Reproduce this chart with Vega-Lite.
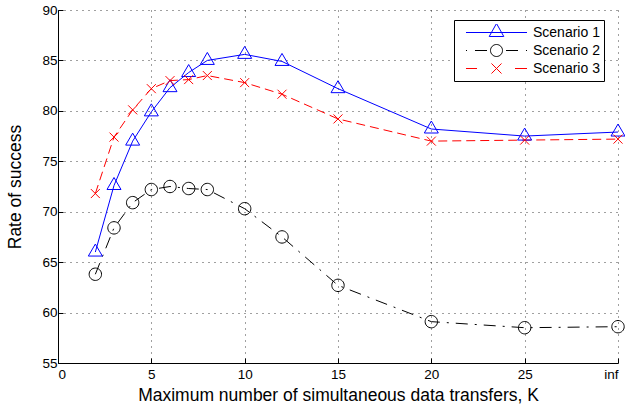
{
  "$schema": "https://vega.github.io/schema/vega-lite/v6.json",
  "width": 560,
  "height": 353,
  "autosize": "none",
  "padding": {"left": 58, "top": 10, "right": 7, "bottom": 45},
  "background": "white",
  "config": {
    "font": "Liberation Sans",
    "view": {"stroke": null},
    "axis": {
      "domainColor": "#000",
      "domainWidth": 1,
      "tickColor": "#000",
      "tickSize": -5,
      "labelColor": "#000",
      "labelFont": "Liberation Sans",
      "labelFontSize": 13.5,
      "titleColor": "#000",
      "titleFont": "Liberation Sans",
      "titleFontSize": 17.5,
      "titleFontWeight": "normal",
      "grid": true,
      "gridColor": "#000",
      "gridDash": [1, 5],
      "gridOpacity": 0.75
    }
  },
  "data": {
    "values": [
      {"series": "Scenario 1", "k": 2, "rate": 66.0},
      {"series": "Scenario 1", "k": 3, "rate": 72.6},
      {"series": "Scenario 1", "k": 4, "rate": 77.0},
      {"series": "Scenario 1", "k": 5, "rate": 79.9},
      {"series": "Scenario 1", "k": 6, "rate": 82.3},
      {"series": "Scenario 1", "k": 7, "rate": 83.8},
      {"series": "Scenario 1", "k": 8, "rate": 85.0},
      {"series": "Scenario 1", "k": 10, "rate": 85.6},
      {"series": "Scenario 1", "k": 12, "rate": 84.9},
      {"series": "Scenario 1", "k": 15, "rate": 82.2},
      {"series": "Scenario 1", "k": 20, "rate": 78.2},
      {"series": "Scenario 1", "k": 25, "rate": 77.5},
      {"series": "Scenario 1", "k": 30, "rate": 77.9},
      {"series": "Scenario 2", "k": 2, "rate": 63.8},
      {"series": "Scenario 2", "k": 3, "rate": 68.4},
      {"series": "Scenario 2", "k": 4, "rate": 70.9},
      {"series": "Scenario 2", "k": 5, "rate": 72.2},
      {"series": "Scenario 2", "k": 6, "rate": 72.5},
      {"series": "Scenario 2", "k": 7, "rate": 72.3},
      {"series": "Scenario 2", "k": 8, "rate": 72.2},
      {"series": "Scenario 2", "k": 10, "rate": 70.3},
      {"series": "Scenario 2", "k": 12, "rate": 67.5},
      {"series": "Scenario 2", "k": 15, "rate": 62.7},
      {"series": "Scenario 2", "k": 20, "rate": 59.1},
      {"series": "Scenario 2", "k": 25, "rate": 58.5},
      {"series": "Scenario 2", "k": 30, "rate": 58.6},
      {"series": "Scenario 3", "k": 2, "rate": 71.8},
      {"series": "Scenario 3", "k": 3, "rate": 77.4},
      {"series": "Scenario 3", "k": 4, "rate": 80.1},
      {"series": "Scenario 3", "k": 5, "rate": 82.2},
      {"series": "Scenario 3", "k": 6, "rate": 83.0},
      {"series": "Scenario 3", "k": 7, "rate": 83.1},
      {"series": "Scenario 3", "k": 8, "rate": 83.5},
      {"series": "Scenario 3", "k": 10, "rate": 82.8},
      {"series": "Scenario 3", "k": 12, "rate": 81.65},
      {"series": "Scenario 3", "k": 15, "rate": 79.2},
      {"series": "Scenario 3", "k": 20, "rate": 77.0},
      {"series": "Scenario 3", "k": 25, "rate": 77.1},
      {"series": "Scenario 3", "k": 30, "rate": 77.2}
    ]
  },
  "encoding": {
    "x": {
      "field": "k",
      "type": "quantitative",
      "scale": {"domain": [0, 30], "nice": false, "zero": false},
      "axis": {
        "values": [0, 5, 10, 15, 20, 25, 30],
        "labelExpr": "datum.value == 30 ? 'inf' : datum.label",
        "labelPadding": 9,
        "titlePadding": 6,
        "title": "Maximum number of simultaneous data transfers, K"
      }
    },
    "y": {
      "field": "rate",
      "type": "quantitative",
      "scale": {"domain": [55, 90], "nice": false, "zero": false},
      "axis": {
        "values": [55, 60, 65, 70, 75, 80, 85, 90],
        "labelPadding": 6,
        "titlePadding": 17,
        "title": "Rate of success"
      }
    },
    "color": {
      "field": "series",
      "type": "nominal",
      "scale": {
        "domain": ["Scenario 1", "Scenario 2", "Scenario 3"],
        "range": ["#0000ff", "#000000", "#ff0000"]
      },
      "legend": {
        "orient": "none",
        "legendX": 396,
        "legendY": 10,
        "title": null,
        "padding": 4,
        "strokeColor": "#000",
        "fillColor": "#fff",
        "cornerRadius": 0,
        "symbolSize": 5776,
        "symbolStrokeWidth": 1,
        "symbolFillColor": "transparent",
        "clipHeight": 17,
        "rowPadding": 1,
        "labelOffset": -2,
        "labelFont": "Liberation Sans",
        "labelFontSize": 14,
        "labelColor": "#000",
        "labelExpr": "datum.label + '  '",
        "encode": {
          "symbols": {
            "update": {
              "shape": {"signal": "datum.value == 'Scenario 1' ? 'M-0.803,0L0.803,0M0,-0.237L0.192,0.105L-0.192,0.105Z' : datum.value == 'Scenario 2' ? 'M-0.803,0L-0.776,0M-0.566,0L-0.25,0M0.25,0L0.566,0M0.776,0L0.803,0M0.158,0A0.158,0.158 0 1,1 -0.158,0A0.158,0.158 0 1,1 0.158,0Z' : 'M-0.803,0L-0.513,0M0.487,0L0.803,0M-0.132,-0.132L0.132,0.132M-0.132,0.132L0.132,-0.132'"},
              "fill": {"value": "transparent"},
              "opacity": {"value": 1}
            }
          }
        }
      }
    }
  },
  "layer": [
    {
      "transform": [{"filter": {"field": "series", "equal": "Scenario 1"}}],
      "mark": {"type": "line", "strokeWidth": 1}
    },
    {
      "transform": [{"filter": {"field": "series", "equal": "Scenario 2"}}],
      "mark": {"type": "line", "strokeWidth": 1, "strokeDash": [12, 7, 2, 7]}
    },
    {
      "transform": [{"filter": {"field": "series", "equal": "Scenario 3"}}],
      "mark": {"type": "line", "strokeWidth": 1, "strokeDash": [9, 5]}
    },
    {
      "transform": [{"filter": {"field": "series", "equal": "Scenario 1"}}],
      "mark": {"type": "point", "filled": false, "size": 100, "strokeWidth": 1, "opacity": 1, "shape": "M0,-1.6L1.4,0.8L-1.4,0.8Z"}
    },
    {
      "transform": [{"filter": {"field": "series", "equal": "Scenario 2"}}],
      "mark": {"type": "point", "filled": false, "size": 100, "strokeWidth": 1, "opacity": 1, "shape": "M1.24,0A1.24,1.24 0 1,1 -1.24,0A1.24,1.24 0 1,1 1.24,0Z"}
    },
    {
      "transform": [{"filter": {"field": "series", "equal": "Scenario 3"}}],
      "mark": {"type": "point", "filled": false, "size": 100, "strokeWidth": 1, "opacity": 1, "shape": "M-0.9,-0.9L0.9,0.9M-0.9,0.9L0.9,-0.9"}
    }
  ]
}
